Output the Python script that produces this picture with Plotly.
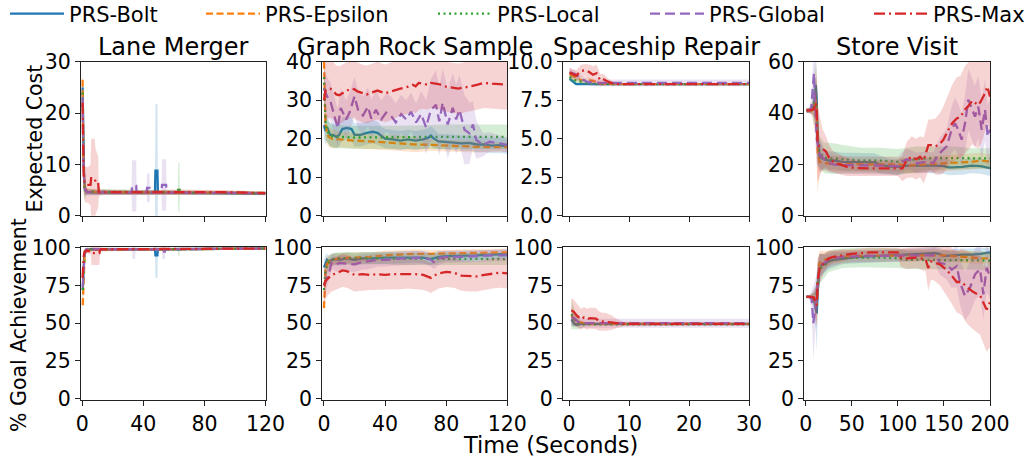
import plotly.graph_objects as go
from plotly.subplots import make_subplots

# ---------------- names / ticks ----------------
series_names = ["PRS-Bolt", "PRS-Epsilon", "PRS-Local", "PRS-Global", "PRS-Max"]
task_titles = ["Lane Merger", "Graph Rock Sample", "Spaceship Repair", "Store Visit"]
ylabel_cost = "Expected Cost"
ylabel_goal = "% Goal Achievement"
xlabel = "Time (Seconds)"

x_ticks_lm = [0, 40, 80, 120]
x_ticks_gr = [0, 40, 80, 120]
x_ticks_sr = [0, 10, 20, 30]
x_ticks_sv = [0, 50, 100, 150, 200]
y_ticks_lm_c = [0, 10, 20, 30]
y_ticks_gr_c = [0, 10, 20, 30, 40]
y_ticks_sr_c = [0, 2.5, 5, 7.5, 10]
y_ticks_sv_c = [0, 20, 40, 60]
y_ticks_goal = [0, 25, 50, 75, 100]

# ---------------- Lane Merger : expected cost ----------------
lm_c_bolt_x = [0.2, 0.7, 1.2, 1.8, 3, 10, 30, 47.6, 47.9, 49.2, 49.5, 80, 120]
lm_c_bolt_y = [25, 14, 7, 5, 4.6, 4.5, 4.5, 4.5, 8.8, 8.8, 4.5, 4.4, 4.3]
lm_c_bolt_sd = [3, 4, 2.5, 1, 0.5, 0.4, 0.4, 0.4, 13, 13, 0.4, 0.4, 0.3]
lm_c_eps_x = [0.2, 0.7, 1.5, 3, 10, 120]
lm_c_eps_y = [26.5, 11, 5.5, 4.8, 4.6, 4.4]
lm_c_eps_sd = [3, 5, 1.5, 0.6, 0.5, 0.4]
lm_c_loc_x = [0.2, 0.7, 1.5, 3, 62.6, 62.9, 63.6, 63.9, 120]
lm_c_loc_y = [24, 11, 5.5, 4.7, 4.5, 5.5, 5.5, 4.5, 4.4]
lm_c_loc_sd = [4, 6, 2.5, 0.5, 0.4, 4.8, 4.8, 0.4, 0.3]
lm_c_glob_x = [0.2, 0.7, 1.5, 3, 32.3, 32.6, 35.3, 35.6, 42.1, 42.4, 44.0, 44.3, 51.9, 52.2, 54.9, 55.2, 120]
lm_c_glob_y = [23, 11, 5.5, 4.6, 4.5, 5.8, 5.8, 4.5, 4.5, 5.4, 5.4, 4.5, 4.5, 6.0, 6.0, 4.5, 4.4]
lm_c_glob_sd = [4, 6, 1.5, 0.5, 0.4, 5, 5, 0.4, 0.4, 2.8, 2.8, 0.4, 0.4, 5, 5, 0.4, 0.3]
lm_c_max_x = [0.2, 0.5, 0.9, 1.5, 2.5, 4, 5.4, 5.8, 8.2, 8.6, 10.4, 10.8, 12, 30, 60, 90, 120]
lm_c_max_y = [22, 14, 8, 6.3, 6.0, 6.0, 6.0, 7.3, 7.3, 6.6, 6.6, 4.6, 4.6, 4.5, 4.6, 4.6, 4.4]
lm_c_max_sd = [5, 6, 4, 3.5, 3.5, 3.5, 4, 7.7, 7.7, 6.5, 5, 1, 0.5, 0.4, 0.5, 0.4, 0.3]

# ---------------- Lane Merger : goal achievement ----------------
lm_g_bolt_x = [0.3, 0.8, 1.3, 2.5, 5, 47.6, 47.9, 49.2, 49.5, 120]
lm_g_bolt_y = [72, 85, 95, 98.5, 99, 99, 95, 95, 99, 99.5]
lm_g_bolt_sd = [12, 10, 4, 1.5, 0.8, 0.8, 15, 15, 0.8, 0.5]
lm_g_eps_x = [0.3, 0.8, 1.5, 3, 120]
lm_g_eps_y = [62, 82, 95, 98.5, 99.5]
lm_g_eps_sd = [10, 8, 3, 1, 0.5]
lm_g_loc_x = [0.3, 0.8, 1.5, 3, 62.6, 62.9, 63.6, 63.9, 120]
lm_g_loc_y = [72, 88, 96.5, 99, 99, 97.5, 97.5, 99, 99.5]
lm_g_loc_sd = [10, 8, 3, 1, 0.8, 3, 3, 0.8, 0.5]
lm_g_glob_x = [0.3, 0.8, 1.5, 3, 32.6, 32.9, 34.6, 34.9, 52.1, 52.4, 54.1, 54.4, 120]
lm_g_glob_y = [74, 88, 96.5, 99, 99, 97.5, 97.5, 99, 99, 97.5, 97.5, 99, 99.5]
lm_g_glob_sd = [10, 8, 3, 1, 0.8, 5, 5, 0.8, 0.8, 5, 5, 0.8, 0.5]
lm_g_max_x = [0.2, 0.5, 0.9, 1.5, 3, 5.6, 6.0, 11.2, 11.6, 12.5, 120]
lm_g_max_y = [80, 88, 94, 97.5, 98, 97.5, 96.5, 96.5, 98.5, 99, 99.5]
lm_g_max_sd = [6, 5, 3, 2, 1.5, 2, 8, 8, 2, 1, 0.5]

# ---------------- Graph Rock Sample : expected cost ----------------
gr_c_bolt_x = [0, 1, 2, 4, 6, 8, 10, 12, 15, 18, 20, 24, 28, 32, 35, 38, 40, 45, 50, 55,
               60, 65, 68, 70, 72, 75, 80, 85, 90, 95, 100, 105, 110, 115, 120]
gr_c_bolt_y = [23.5, 22, 23, 21, 21, 20.5, 21, 22.5, 22.8, 22.5, 21, 21, 21.5, 21.8, 21.5, 20.5, 20, 19.8, 19.5, 19.8,
               19.5, 19.8, 20.2, 20.8, 20, 19.3, 19.2, 19.0, 18.8, 18.9, 18.5, 18.5, 18.2, 18.3, 18.0]
gr_c_bolt_sd = [3.5, 3.5, 3.5, 3, 3, 3, 3, 3, 3, 3, 3, 3, 3, 3, 3, 2.5, 2.5, 2.5, 2.5, 2.5,
                2.5, 2.5, 2.5, 2.5, 2.5, 2, 2, 2, 2, 2, 2, 2, 2, 2, 2]
gr_c_eps_x = [0, 0.5, 1, 2, 3, 5, 10, 20, 30, 40, 50, 60, 70, 80, 90, 100, 110, 120]
gr_c_eps_y = [40, 30, 24, 21.5, 20.5, 20, 19.8, 19.5, 19.3, 19, 18.8, 18.5, 18.4, 18.2, 18, 17.9, 17.8, 17.8]
gr_c_eps_sd = [6, 6, 4, 3, 2.5, 2.5, 2, 2, 2, 2, 2, 2, 1.5, 1.5, 1.5, 1.5, 1.2, 1.2]
gr_c_loc_x = [0, 0.5, 1, 2, 4, 6, 10, 20, 40, 60, 80, 100, 120]
gr_c_loc_y = [36, 30, 24, 22, 21, 20.5, 20.5, 20.3, 20.4, 20.4, 20.5, 20.5, 20.5]
gr_c_loc_sd = [5, 5, 4, 3, 3, 3, 3, 3, 3, 3, 3.2, 3.2, 3.2]
gr_c_glob_x = [0, 2, 4.3, 7, 9, 11, 14.5, 16.7, 20, 22.3, 25.5, 28.8, 31, 34, 37.5, 40.7, 44, 47, 50.5, 53.8,
               57, 60.3, 63.6, 66.8, 70, 73.3, 75.5, 77.7, 81, 84.3, 86.5, 88.7, 92, 95.2, 97.5, 99.7, 104, 108.4, 115, 120]
gr_c_glob_y = [33, 31, 29.6, 26, 22.7, 28, 25, 26.8, 31, 27.5, 26, 28.3, 25.2, 27.5, 25, 26.8, 25.9, 24.2, 26.4, 25,
               27, 24.2, 26.4, 23, 27.5, 28.8, 24.5, 29.3, 23.7, 28, 25, 27.5, 22.3, 21.4, 23.7, 19.7, 18.4, 19.2, 18.8, 18.4]
gr_c_glob_sd = [5, 5, 5, 5, 5, 5, 5, 5, 5, 5, 5, 5, 5, 5, 5, 5, 5, 5, 5, 5,
                5, 5, 6, 7, 8, 9, 9, 9, 9, 9, 9, 9, 9, 8, 6, 5, 3, 2.5, 2, 2]
gr_c_max_x = [0, 1, 2, 4, 6, 8, 10, 12, 15, 18, 20, 22, 25, 28, 30, 35, 40, 45, 50, 55,
              58, 60, 62, 65, 68, 70, 75, 80, 85, 88, 90, 95, 100, 105, 110, 115, 120]
gr_c_max_y = [30, 32.5, 33, 33, 32.5, 31.5, 31.3, 31.8, 32.5, 33, 32.8, 32.3, 31.8, 31.5, 31.8, 32.5, 31.8, 32.5, 33, 33.5,
              34, 33.6, 34.5, 34.3, 34, 34.5, 34.2, 33.5, 33.2, 33, 33.2, 33.5, 34, 34.5, 34.3, 34.2, 34.0]
gr_c_max_sd = [8, 8, 8, 7.5, 7.5, 7.5, 7.5, 7.5, 7.5, 7.5, 7.5, 7.5, 7.5, 7.5, 7.5, 7.5, 7.5, 7.5, 7, 7,
               7, 7, 7, 6.5, 6.5, 6.5, 6.5, 6.5, 6.5, 6.5, 6.5, 6.5, 6.5, 6.5, 6.5, 6.5, 6.5]

# ---------------- Graph Rock Sample : goal achievement ----------------
gr_g_bolt_x = [0, 1, 2, 3, 5, 8, 10, 15, 20, 25, 30, 40, 50, 60, 65, 70, 72, 75, 80, 90, 100, 110, 120]
gr_g_bolt_y = [87, 90, 92, 91, 92, 92.5, 92, 93, 92, 93, 93, 93.5, 93.5, 94, 93.5, 92.5, 93, 94, 94.5, 94.5, 95, 95.5, 96]
gr_g_bolt_sd = [5, 5, 4, 4, 4, 4, 4, 4, 4, 4, 4, 4, 4, 4, 4, 4, 4, 4, 3.5, 3.5, 3.5, 3, 3]
gr_g_eps_x = [0, 0.5, 1, 2, 3, 5, 10, 20, 30, 40, 50, 60, 70, 80, 90, 100, 110, 120]
gr_g_eps_y = [60, 75, 85, 89, 90.5, 92, 93, 93.5, 94, 95, 95.5, 96, 96, 96.3, 96.5, 96.5, 96.8, 97]
gr_g_eps_sd = [12, 10, 7, 5, 4, 4, 3.5, 3.5, 3, 3, 3, 3, 2.5, 2.5, 2.5, 2.5, 2.5, 2.5]
gr_g_loc_x = [0, 0.5, 1, 2, 4, 6, 10, 20, 40, 50, 60, 80, 100, 120]
gr_g_loc_y = [72, 80, 85, 88, 91, 92.5, 93, 93, 93, 92.5, 92.5, 92.5, 92.5, 92.5]
gr_g_loc_sd = [8, 8, 6, 5, 4, 4, 4, 4, 4, 4, 4, 4, 4, 4]
gr_g_glob_x = [0, 1, 2, 3, 4, 5, 6, 8, 10, 15, 20, 25, 30, 35, 40, 45, 50, 55, 60, 65,
               70, 72, 75, 80, 90, 100, 110, 120]
gr_g_glob_y = [75, 78, 80, 82, 86, 90, 90.5, 89, 90, 89.5, 89, 90.5, 91, 92, 92, 92.5, 93, 93, 93.2, 93.5,
               92, 90.5, 93, 94, 94, 94.5, 95, 95]
gr_g_glob_sd = [8, 8, 8, 6, 5, 5, 5, 5, 5, 5, 5, 5, 5, 4.5, 4.5, 4.5, 4.5, 4.5, 4.5, 4.5,
                4.5, 4.5, 4.5, 4, 4, 4, 4, 4]
gr_g_max_x = [0, 1, 2, 3, 5, 8, 10, 12, 15, 18, 20, 25, 30, 35, 40, 45, 50, 55, 60, 65,
              68, 70, 72, 75, 80, 85, 90, 95, 100, 105, 110, 115, 120]
gr_g_max_y = [75, 78, 79, 80, 82, 83, 84, 85, 84.5, 83, 82, 82.5, 82, 82.5, 82, 82.5, 82.5, 83, 82.5, 82,
              81, 80, 81.5, 83, 84, 83.5, 81.5, 81, 81, 82, 83, 83.5, 83]
gr_g_max_sd = [12, 12, 11, 11, 11, 11, 11, 11, 11, 11, 11, 11, 10, 10, 10, 10, 10, 10, 10, 10,
               10, 10, 10, 10, 10, 10, 10, 10, 10, 10, 10, 10, 10]

# ---------------- Spaceship Repair : expected cost ----------------
sr_c_bolt_x = [0.1, 0.9, 1.2, 30]
sr_c_bolt_y = [8.9, 8.6, 8.55, 8.55]
sr_c_bolt_sd = [0.15, 0.1, 0.05, 0.05]
sr_c_eps_x = [0.1, 1, 2, 3, 4, 5, 6, 30]
sr_c_eps_y = [9.2, 9.0, 8.8, 8.8, 8.75, 8.6, 8.55, 8.55]
sr_c_eps_sd = [0.3, 0.25, 0.2, 0.2, 0.15, 0.1, 0.05, 0.05]
sr_c_loc_x = [0.1, 1, 2, 3, 4, 30]
sr_c_loc_y = [9.0, 8.8, 8.7, 8.6, 8.55, 8.55]
sr_c_loc_sd = [0.3, 0.2, 0.15, 0.1, 0.05, 0.05]
sr_c_glob_x = [0.1, 1, 2, 3, 4, 30]
sr_c_glob_y = [9.3, 9.2, 8.9, 8.7, 8.62, 8.62]
sr_c_glob_sd = [0.3, 0.25, 0.22, 0.22, 0.22, 0.22]
sr_c_max_x = [0.1, 0.6, 1.2, 2, 2.8, 3.5, 4, 4.6, 5.2, 5.8, 6.5, 7.3, 8, 30]
sr_c_max_y = [9.3, 9.2, 9.1, 9.4, 9.45, 9.3, 9.15, 9.25, 8.8, 8.85, 8.7, 8.6, 8.55, 8.55]
sr_c_max_sd = [0.3, 0.3, 0.35, 0.4, 0.4, 0.5, 0.55, 0.55, 0.4, 0.35, 0.2, 0.1, 0.05, 0.05]

# ---------------- Spaceship Repair : goal achievement ----------------
sr_g_bolt_x = [0.4, 0.9, 1.3, 2, 30]
sr_g_bolt_y = [52.5, 49.5, 49, 49.5, 49.5]
sr_g_bolt_sd = [4, 2, 1, 0.5, 0.5]
sr_g_eps_x = [0.4, 1, 1.5, 2, 3, 30]
sr_g_eps_y = [55, 52, 50, 50.5, 49.5, 49.5]
sr_g_eps_sd = [7, 4, 2, 1.5, 1, 0.8]
sr_g_loc_x = [0.4, 1, 1.5, 2, 3, 30]
sr_g_loc_y = [56, 52, 50, 49, 49.3, 49.3]
sr_g_loc_sd = [10, 6, 4, 2, 1, 0.8]
sr_g_glob_x = [0.4, 1, 1.5, 2, 3, 30]
sr_g_glob_y = [54, 53, 51, 50, 50, 50]
sr_g_glob_sd = [6, 4, 3.5, 3.2, 3, 3]
sr_g_max_x = [0.4, 0.8, 1.2, 1.6, 2, 2.5, 3, 3.5, 4, 4.5, 5, 5.5, 6, 7, 8, 9, 30]
sr_g_max_y = [58.5, 57.5, 55.5, 53.8, 52.6, 53.8, 52.6, 53.3, 53, 53, 51.5, 51, 51, 50.5, 49.8, 49.5, 49.5]
sr_g_max_sd = [8, 8, 8, 7.5, 7, 7, 7, 7, 7, 7, 6.5, 6, 6, 5, 3, 1.5, 1]

# ---------------- Store Visit : expected cost ----------------
sv_c_bolt_x = [1, 4, 7, 9, 11, 12, 13, 15, 17, 20, 25, 30, 40, 50, 60, 75, 80, 90, 100, 110,
               120, 130, 140, 150, 155, 160, 170, 180, 190, 200]
sv_c_bolt_y = [41, 41, 41.5, 43, 51, 45, 30, 23, 22.5, 22, 21.5, 21.5, 21, 21, 21, 20.8, 20, 19.2, 19, 19.5,
               19.5, 19.6, 19.5, 19.3, 18.8, 18.8, 19, 19.5, 19.3, 18.5]
sv_c_bolt_sd = [1, 1, 2, 8, 12, 12, 10, 6, 5, 4, 3.5, 3.5, 3.5, 3.5, 3.5, 3.5, 3.5, 3, 3, 3,
                3, 3, 3, 3, 3, 3, 3, 3, 3, 3]
sv_c_eps_x = [1, 4, 7, 9, 11, 12, 13, 15, 20, 30, 50, 70, 100, 110, 130, 150, 160, 180, 190, 200]
sv_c_eps_y = [41, 41, 41, 42, 45, 40, 25, 21, 20.5, 20.2, 20, 20, 20, 19.5, 20, 20.3, 20.5, 21, 21.5, 21]
sv_c_eps_sd = [1, 1, 2, 8, 14, 16, 17, 4, 3, 3, 3, 3, 3, 3, 3, 3, 3, 3, 3, 3]
sv_c_loc_x = [1, 4, 7, 9, 11, 12, 13, 15, 20, 30, 40, 60, 80, 100, 110, 120, 140, 160, 180, 200]
sv_c_loc_y = [41, 41, 42, 44, 44, 40, 30, 25, 22.5, 22.2, 22, 21.5, 21.5, 21, 21.5, 22, 22.5, 22.5, 22.3, 22.3]
sv_c_loc_sd = [1, 1, 2, 6, 10, 10, 10, 6, 6, 6, 5.5, 5, 5, 5, 5, 5, 4.5, 4.5, 4, 4]
sv_c_glob_x = [1, 4, 6, 7.5, 9, 10, 12, 15, 20, 25, 30, 40, 50, 70, 90, 100, 105, 110, 115, 120,
               130, 138.5, 145.7, 153, 158.4, 162, 165.6, 169.2, 172.9, 176.5, 180.1, 183.7, 187.3, 191, 194.6, 197.5, 200]
sv_c_glob_y = [41, 41, 42, 50, 55.5, 45, 30, 24, 22, 20.5, 20, 19.7, 19.7, 19.7, 19.5, 19.3, 21, 22, 21.5, 20.5,
               21, 20.6, 24.5, 27, 33.5, 36, 33.5, 29.6, 36, 45.2, 41.9, 38.6, 42.5, 33.5, 41.3, 30.9, 33.5]
sv_c_glob_sd = [1, 1, 3, 8, 12, 14, 10, 6, 4, 3.5, 3.5, 3.5, 3.5, 3.5, 3.5, 3.5, 4, 4, 4, 4,
                4, 4, 6, 7, 9, 10, 10, 10, 11, 12, 12, 12, 12, 12, 12, 12, 12]
sv_c_max_x = [1, 5, 9, 11, 12, 13, 15, 18, 22, 26, 30, 34, 45, 56, 80, 100, 105, 109.6, 115, 120,
              124, 128, 133.1, 136.7, 141, 145.7, 149.3, 154.8, 159, 163.9, 168, 172.9, 176, 180.8, 184, 187.3,
              190, 192.7, 195, 197.1, 200]
sv_c_max_y = [41, 41, 41.5, 44, 40, 28, 27, 26, 25, 22.2, 21, 20.3, 19, 18.5, 18.5, 18.5, 18.4, 21.7, 23, 22,
              23, 21.5, 27.5, 27.5, 27, 28, 29.5, 33.4, 36, 37.9, 38.5, 41.4, 42.5, 44.8, 44, 43.1,
              44.5, 46.4, 48, 50.3, 46.4]
sv_c_max_sd = [1, 1, 3, 10, 15, 15, 12, 8, 6, 5, 4, 4, 3.5, 3, 3, 3, 5, 7, 8, 8,
               8, 9, 10, 10, 11, 12, 13, 14, 15, 16, 16, 17, 17, 17, 17, 17,
               17, 16, 15, 14, 14]

# ---------------- Store Visit : goal achievement ----------------
sv_g_bolt_x = [1, 4, 7, 9, 11, 12, 13, 15, 20, 25, 30, 40, 50, 60, 80, 100, 120, 130, 140, 145,
               150, 160, 170, 180, 190, 200]
sv_g_bolt_y = [67.5, 67.5, 67, 65, 60, 56.5, 70, 88, 89, 91, 92, 93, 93.5, 94, 94.5, 95, 95.5, 96, 96.5, 96,
               94.5, 95, 95.5, 95.5, 96, 97]
sv_g_bolt_sd = [1, 1, 3, 8, 15, 25, 18, 8, 6, 5, 5, 4, 4, 4, 4, 4, 4, 4, 4, 4,
                4, 4, 4, 4, 4, 3]
sv_g_eps_x = [1, 4, 7, 9, 11, 12, 13, 15, 20, 25, 30, 50, 100, 150, 160, 170, 180, 190, 200]
sv_g_eps_y = [67.5, 67.5, 67.5, 66, 63, 62, 75, 90, 92, 93, 93.5, 94.5, 95, 95, 94.5, 94, 93.5, 93, 93]
sv_g_eps_sd = [1, 1, 2, 5, 10, 12, 15, 8, 6, 5, 5, 4, 4, 4, 4, 4, 4, 4, 4]
sv_g_loc_x = [1, 4, 7, 9, 11, 12, 13, 15, 20, 25, 30, 40, 60, 80, 100, 110, 130, 150, 170, 185, 200]
sv_g_loc_y = [67.5, 67.5, 67.5, 66, 65, 72, 77, 86, 88, 91, 92, 93, 93.5, 93.5, 93, 92, 92, 92, 91.5, 91.5, 91.5]
sv_g_loc_sd = [1, 1, 2, 5, 8, 10, 12, 10, 8, 7, 7, 6.5, 6.5, 6.5, 6.5, 6, 6, 6, 6, 6, 6]
sv_g_glob_x = [1, 4, 6.5, 8.3, 10, 11.5, 13, 15, 20, 25, 30, 40, 60, 80, 100, 120, 130, 140, 145.7, 153,
               158.4, 163.9, 167.5, 172.9, 178.4, 183.8, 189.2, 192.8, 196.4, 200]
sv_g_glob_y = [67.5, 67.5, 66, 50, 58, 67, 80, 88, 90, 92, 93, 94, 94.5, 94.5, 94.5, 95, 95, 95, 90, 89,
               85.5, 87.8, 77, 68, 73.7, 82.4, 85.7, 69.2, 86.8, 81]
sv_g_glob_sd = [1, 1, 6, 25, 20, 15, 12, 8, 6, 5, 5, 4, 4, 4, 4, 4, 4, 5, 8, 10,
                12, 14, 15, 16, 17, 17, 17, 17, 16, 15]
sv_g_max_x = [1, 5, 9, 10.5, 12, 13, 15, 20, 25, 30, 40, 50, 60, 70, 100, 103, 110, 120, 130, 133,
              136, 140, 145.7, 151.2, 156.6, 163.9, 169.3, 174.8, 182, 189.2, 196.4, 200]
sv_g_max_y = [67.5, 67.5, 67, 63, 62, 78, 86, 90, 93, 94, 95, 96, 96.5, 97, 97, 93.5, 93, 93.5, 92.5, 86.5,
              91, 90, 89, 86.2, 82.9, 77.3, 77.3, 74, 70.6, 68.4, 59, 64]
sv_g_max_sd = [1, 1, 3, 10, 15, 15, 10, 6, 5, 4, 4, 3, 3, 3, 3, 6, 7, 7, 8, 15,
               12, 12, 14, 16, 18, 20, 22, 24, 25, 26, 28, 30]

# ---------------- styling ----------------
COLORS = ["#1f77b4", "#ff7f0e", "#2ca02c", "#9467bd", "#d62728"]
FILLS = ["rgba(31,119,180,0.2)", "rgba(255,127,14,0.2)", "rgba(44,160,44,0.2)",
         "rgba(148,103,189,0.2)", "rgba(214,39,40,0.2)"]
DASHES = ["solid", "7px,3.5px", "2px,3.5px", "10px,5px", "11px,4px,2px,4px"]
LEGEND_KEYS = ["legend", "legend2", "legend3", "legend4", "legend5"]
FONT = "DejaVu Sans"

W, H = 1029, 457

panels = {
    (1, 1): [(lm_c_bolt_x, lm_c_bolt_y, lm_c_bolt_sd), (lm_c_eps_x, lm_c_eps_y, lm_c_eps_sd),
             (lm_c_loc_x, lm_c_loc_y, lm_c_loc_sd), (lm_c_glob_x, lm_c_glob_y, lm_c_glob_sd),
             (lm_c_max_x, lm_c_max_y, lm_c_max_sd)],
    (1, 2): [(gr_c_bolt_x, gr_c_bolt_y, gr_c_bolt_sd), (gr_c_eps_x, gr_c_eps_y, gr_c_eps_sd),
             (gr_c_loc_x, gr_c_loc_y, gr_c_loc_sd), (gr_c_glob_x, gr_c_glob_y, gr_c_glob_sd),
             (gr_c_max_x, gr_c_max_y, gr_c_max_sd)],
    (1, 3): [(sr_c_bolt_x, sr_c_bolt_y, sr_c_bolt_sd), (sr_c_eps_x, sr_c_eps_y, sr_c_eps_sd),
             (sr_c_loc_x, sr_c_loc_y, sr_c_loc_sd), (sr_c_glob_x, sr_c_glob_y, sr_c_glob_sd),
             (sr_c_max_x, sr_c_max_y, sr_c_max_sd)],
    (1, 4): [(sv_c_bolt_x, sv_c_bolt_y, sv_c_bolt_sd), (sv_c_eps_x, sv_c_eps_y, sv_c_eps_sd),
             (sv_c_loc_x, sv_c_loc_y, sv_c_loc_sd), (sv_c_glob_x, sv_c_glob_y, sv_c_glob_sd),
             (sv_c_max_x, sv_c_max_y, sv_c_max_sd)],
    (2, 1): [(lm_g_bolt_x, lm_g_bolt_y, lm_g_bolt_sd), (lm_g_eps_x, lm_g_eps_y, lm_g_eps_sd),
             (lm_g_loc_x, lm_g_loc_y, lm_g_loc_sd), (lm_g_glob_x, lm_g_glob_y, lm_g_glob_sd),
             (lm_g_max_x, lm_g_max_y, lm_g_max_sd)],
    (2, 2): [(gr_g_bolt_x, gr_g_bolt_y, gr_g_bolt_sd), (gr_g_eps_x, gr_g_eps_y, gr_g_eps_sd),
             (gr_g_loc_x, gr_g_loc_y, gr_g_loc_sd), (gr_g_glob_x, gr_g_glob_y, gr_g_glob_sd),
             (gr_g_max_x, gr_g_max_y, gr_g_max_sd)],
    (2, 3): [(sr_g_bolt_x, sr_g_bolt_y, sr_g_bolt_sd), (sr_g_eps_x, sr_g_eps_y, sr_g_eps_sd),
             (sr_g_loc_x, sr_g_loc_y, sr_g_loc_sd), (sr_g_glob_x, sr_g_glob_y, sr_g_glob_sd),
             (sr_g_max_x, sr_g_max_y, sr_g_max_sd)],
    (2, 4): [(sv_g_bolt_x, sv_g_bolt_y, sv_g_bolt_sd), (sv_g_eps_x, sv_g_eps_y, sv_g_eps_sd),
             (sv_g_loc_x, sv_g_loc_y, sv_g_loc_sd), (sv_g_glob_x, sv_g_glob_y, sv_g_glob_sd),
             (sv_g_max_x, sv_g_max_y, sv_g_max_sd)],
}

fig = make_subplots(rows=2, cols=4)

for (r, c), series in panels.items():
    for i, (xs, ys, sds) in enumerate(series):
        lo = [m - s for m, s in zip(ys, sds)]
        hi = [m + s for m, s in zip(ys, sds)]
        show = (r == 1 and c == 1)
        fig.add_trace(go.Scatter(
            x=xs, y=ys, mode="lines", name=series_names[i],
            line=dict(color=COLORS[i], width=2.3, dash=DASHES[i]),
            showlegend=show, legend=LEGEND_KEYS[i], hoverinfo="skip"), row=r, col=c)
        fig.add_trace(go.Scatter(
            x=list(xs) + list(xs)[::-1], y=hi + lo[::-1], mode="lines",
            fill="toself", fillcolor=FILLS[i], line=dict(width=0, color=FILLS[i]),
            showlegend=False, hoverinfo="skip"), row=r, col=c)

# panel geometry (pixels) -> paper domains
col_px = [(81, 265.5), (322.3, 507.3), (563, 749), (804.3, 990)]
row_px = [(61.7, 215.7), (247, 400)]
x_ranges = [[-0.85, 120], [-1.1, 120], [-1.0, 30], [-1.5, 200]]
x_tickvals = [x_ticks_lm, x_ticks_gr, x_ticks_sr, x_ticks_sv]
y_ranges_top = [[0, 30], [0, 40], [0, 10], [0, 60]]
y_tickvals_top = [y_ticks_lm_c, y_ticks_gr_c, y_ticks_sr_c, y_ticks_sv_c]

axis_common = dict(showline=True, mirror=True, linecolor="#222", linewidth=1.1,
                   ticks="outside", ticklen=5, tickwidth=1.1, tickcolor="#222",
                   showgrid=False, zeroline=False, automargin=False,
                   tickfont=dict(family=FONT, size=20.5, color="black"))

for r in (1, 2):
    for c in (1, 2, 3, 4):
        n = (r - 1) * 4 + c
        xk = "xaxis" if n == 1 else f"xaxis{n}"
        yk = "yaxis" if n == 1 else f"yaxis{n}"
        x0, x1 = col_px[c - 1]
        ytop, ybot = row_px[r - 1]
        fig.layout[xk].update(domain=[x0 / W, x1 / W], range=x_ranges[c - 1],
                              tickvals=x_tickvals[c - 1], showticklabels=(r == 2), **axis_common)
        if r == 1:
            yr, yt = y_ranges_top[c - 1], y_tickvals_top[c - 1]
            fmt = ".1f" if c == 3 else ""
        else:
            yr, yt, fmt = [-0.9, 100.5], y_ticks_goal, ""
        fig.layout[yk].update(domain=[1 - ybot / H, 1 - ytop / H], range=yr, tickvals=yt,
                              tickformat=fmt, **axis_common)

annotations = []
for c, title in enumerate(task_titles):
    x0, x1 = col_px[c]
    annotations.append(dict(text=title, x=(x0 + x1) / 2 / W, y=1 - 63 / H, xref="paper", yref="paper",
                            xanchor="center", yanchor="bottom", showarrow=False,
                            font=dict(family=FONT, size=24, color="black")))
annotations.append(dict(text=xlabel, x=550.5 / W, y=1 - 430 / H, xref="paper", yref="paper",
                        xanchor="center", yanchor="top", showarrow=False,
                        font=dict(family=FONT, size=22.5, color="black")))
annotations.append(dict(text=ylabel_cost, x=34 / W, y=1 - 138.5 / H, xref="paper", yref="paper",
                        xanchor="center", yanchor="middle", textangle=-90, showarrow=False,
                        font=dict(family=FONT, size=20.5, color="black")))
annotations.append(dict(text=ylabel_goal, x=19 / W, y=1 - 325 / H, xref="paper", yref="paper",
                        xanchor="center", yanchor="middle", textangle=-90, showarrow=False,
                        font=dict(family=FONT, size=20.5, color="black")))

legend_left_px = [5, 201, 433, 645, 869]
legends = {}
for i, key in enumerate(LEGEND_KEYS):
    legends[key] = dict(x=legend_left_px[i] / W, y=1 - 14 / H, xanchor="left", yanchor="middle",
                        orientation="h", itemwidth=54, bgcolor="rgba(0,0,0,0)", borderwidth=0,
                        font=dict(family=FONT, size=21, color="black"))

fig.update_layout(width=W, height=H, autosize=False,
                  margin=dict(l=0, r=0, t=0, b=0, pad=0, autoexpand=False),
                  paper_bgcolor="white", plot_bgcolor="white",
                  font=dict(family=FONT, color="black"),
                  annotations=annotations, **legends)

fig.write_html("out.html", config={"displayModeBar": False},
               post_script="document.body.style.margin='0';")
